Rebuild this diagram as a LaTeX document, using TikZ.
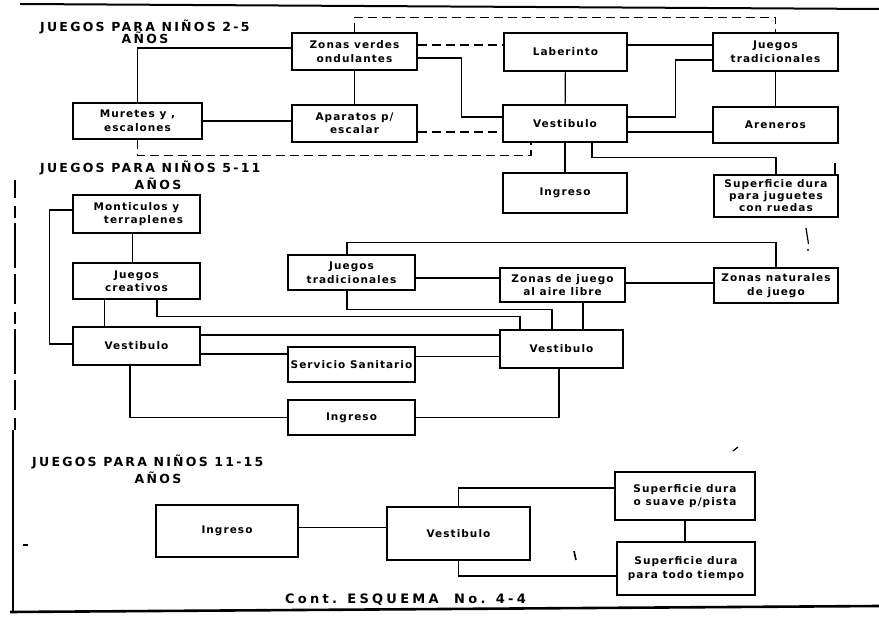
\documentclass[tikz,border=0pt]{standalone}
\usepackage{fontspec}
\newfontfamily\boxfont{DejaVu Sans}[LetterSpace=10]
\newfontfamily\titlefont{DejaVu Sans}[LetterSpace=18]
\newfontfamily\capfont{DejaVu Sans}[LetterSpace=25]
\tikzset{
  box/.style={draw, line width=1.6pt, rectangle, inner sep=0pt, align=center,
    font=\boxfont\bfseries\fontsize{10.5}{13.5}\selectfont},
  sz/.style n args={2}{minimum width=#1pt, minimum height=#2pt},
  link/.style={line width=1.2pt},
  dlink/.style={line width=1.2pt, dash pattern=on 9pt off 5pt},
  ttl/.style={inner sep=0pt, font=\titlefont\bfseries\fontsize{12.5}{12.5}\selectfont},
  frameline/.style={line width=2pt},
  scratch/.style={line width=1.2pt}
}
\begin{document}
\begin{tikzpicture}[x=1pt,y=-1pt]
\useasboundingbox (0,0) rectangle (879,617);
% frame lines
\draw[frameline] (20,4) -- (879,9);
\draw[frameline, line width=2.6pt] (10,612) -- (879,606);
\draw[link] (13,612) -- (13,430);
\draw[link, dash pattern=on 12pt off 8pt on 30pt off 6pt on 45pt off 5pt] (15,430) -- (15,180);

% titles
\node[ttl, anchor=west] (t1a) at (40,27) {JUEGOS PARA NIÑOS 2-5};
\node[ttl] (t1b) at (145,38) {AÑOS};
\node[ttl, anchor=west] (t2a) at (40,168) {JUEGOS PARA NIÑOS 5-11};
\node[ttl] (t2b) at (158,184) {AÑOS};
\node[ttl, anchor=west] (t3a) at (32,462) {JUEGOS PARA NIÑOS 11-15};
\node[ttl] (t3b) at (158,478) {AÑOS};
\node[ttl, anchor=west, font=\capfont\bfseries\fontsize{13}{13}\selectfont] (cap) at (285,600) {Cont. ESQUEMA\ \ No. 4-4};

% ---------- section 1 ----------
\node[box, sz={125}{37}] (zv) at (354.5,51.5) {Zonas verdes\\ondulantes};
\node[box, sz={125}{37}] (ap) at (354.5,123.5) {Aparatos p/\\escalar};
\node[box, sz={129}{36}] (mu) at (137.5,121) {Muretes y ,\\escalones};
\node[box, sz={123}{38}] (lab) at (565.5,52) {Laberinto};
\node[box, sz={124}{37}] (vt) at (565,123.5) {Vestibulo};
\node[box, sz={124}{40}] (ing1) at (565,193) {Ingreso};
\node[box, sz={125}{38}] (jt1) at (775.5,52) {Juegos\\tradicionales};
\node[box, sz={125}{36}] (ar) at (775.5,125) {Areneros};
\node[box, sz={124}{42}, font=\boxfont\bfseries\fontsize{10.5}{12}\selectfont] (sd1) at (776,196) {Superficie dura\\para juguetes\\con ruedas};

\draw[link] (mu.north) |- ([yshift=3.5pt]zv.west);
\draw[link] (mu.east) -- (mu.east -| ap.west);
\coordinate (c1) at ([xshift=-34pt]vt.south);
\draw[dlink] (mu.south) -- ++(0,16) -| (c1);
\draw[dlink] (zv.north) -- ++(0,-15) -| (jt1.north);
\coordinate (c2) at ([yshift=6.5pt]zv.east);
\draw[dlink] (c2) -- (c2 -| lab.west);
\coordinate (c3) at ([xshift=-41pt,yshift=6.5pt]vt.west);
\draw[link] ([yshift=-6.5pt]zv.east) -| (c3) -- ([yshift=6.5pt]vt.west);
\draw[link] (zv) -- (ap);
\coordinate (c4) at ([yshift=-8.5pt]ap.east);
\draw[dlink] (c4) -- (c4 -| vt.west);
\draw[link] (lab) -- (vt);
\draw[link] (vt) -- (ing1);
\coordinate (c5) at ([yshift=7pt]lab.east);
\draw[link] (c5) -- (c5 -| jt1.west);
\draw[link] ([yshift=6.5pt]vt.east) -- ++(48,0) |- ([yshift=-8pt]jt1.west);
\coordinate (c6) at ([yshift=-8.5pt]vt.east);
\draw[link] (c6) -- (c6 -| ar.west);
\draw[link] (jt1) -- (ar);
\draw[link] ([xshift=27pt]vt.south) -- ++(0,15) -| (sd1.north);

% ---------- section 2 ----------
\node[box, sz={127}{38}] (mt) at (136.5,214) {Monticulos y\\\ \ \ terraplenes};
\node[box, sz={127}{36}] (jc) at (136.5,281) {Juegos\\creativos};
\node[box, sz={127}{38}] (vl) at (136.5,346) {Vestibulo};
\node[box, sz={127}{35}] (ss) at (351.5,364.5) {Servicio Sanitario};
\node[box, sz={127}{35}] (ing2) at (351.5,417.5) {Ingreso};
\node[box, sz={127}{35}] (jt2) at (351.5,272.5) {Juegos\\tradicionales};
\node[box, sz={125}{34}] (za) at (562.5,285) {Zonas de juego\\al aire libre};
\node[box, sz={123}{38}] (vr) at (561.5,349) {Vestibulo};
\node[box, sz={124}{35}] (zn) at (776,285.5) {Zonas naturales\\de juego};

\draw[link] ([yshift=4pt]mt.west) -- ++(-23,0) |- ([yshift=2pt]vl.west);
\draw[link] ([xshift=-4pt]mt.south) -- ([xshift=-4pt]jc.north);
\draw[link] ([xshift=-32pt]jc.south) -- ([xshift=-32pt]vl.north);
\draw[link] ([xshift=20.5pt]jc.south) -- ++(0,17) -| ([xshift=-41.5pt]vr.north);
\coordinate (d1) at ([yshift=11pt]vl.east);
\draw[link] (d1) -- (d1 -| vr.west);
\coordinate (d2) at ([yshift=-8pt]vl.east);
\draw[link] (d2) -- (d2 -| ss.west);
\coordinate (d3) at ([yshift=8pt]ss.east);
\draw[link] (d3) -- (d3 -| vr.west);
\draw[link] ([xshift=-6.5pt]vl.south) |- (ing2.west);
\draw[link] (ing2.east) -| ([xshift=-2.5pt]vr.south);
\draw[link] ([xshift=-4.5pt]jt2.north) -- ++(0,-12) -| (zn.north);
\coordinate (d4) at ([yshift=-5.5pt]jt2.east);
\draw[link] (d4) -- (d4 -| za.west);
\coordinate (d5) at ([yshift=2pt]za.east);
\draw[link] (d5) -- (d5 -| zn.west);
\draw[link] ([xshift=-4.5pt]jt2.south) -- ++(0,19) -| ([xshift=-9.5pt]vr.north);
\coordinate (d6) at ([xshift=20.5pt]za.south);
\draw[link] (d6) -- (d6 |- vr.north);

% ---------- section 3 ----------
\node[box, sz={142}{52}] (ing3) at (227,531) {Ingreso};
\node[box, sz={143}{53}] (vb) at (458.5,533.5) {Vestibulo};
\node[box, sz={140}{48}] (s1) at (685,496) {Superficie dura\\o suave p/pista};
\node[box, sz={138}{53}] (s2) at (686,568.5) {Superficie dura\\para todo tiempo};

\coordinate (e1) at ([yshift=3pt]ing3.east);
\draw[link, line width=1pt] (e1) -- (e1 -| vb.west);
\draw[link] (vb.north) |- ([yshift=8pt]s1.west);
\draw[link] (s1.south) -- (s1.south |- s2.north);
\draw[link] (vb.south) |- ([yshift=-7.5pt]s2.west);

% stray marks of the scan
\draw[scratch] (806,228) -- (808.5,244);
\fill (808,250) circle (1.2pt);
\draw[scratch] (835,163) -- (835,175);
\draw[scratch, line width=1.6pt] (574,551) -- (576,560);
\draw[scratch] (733,451) -- (738,447);
\draw[scratch] (23,545) -- (28,545);
\end{tikzpicture}
\end{document}
